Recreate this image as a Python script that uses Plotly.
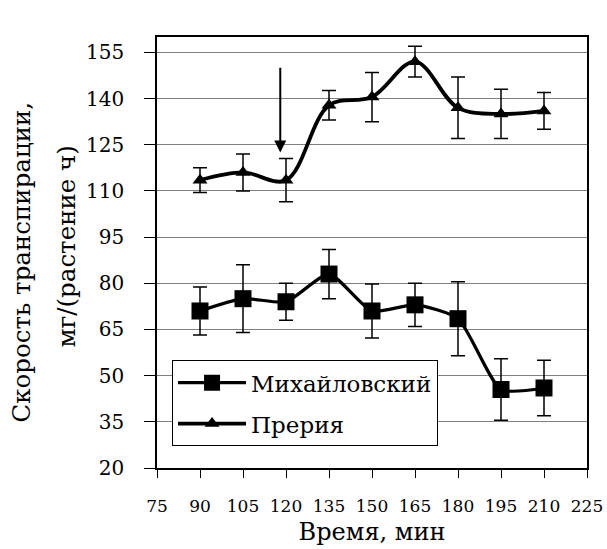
import plotly.graph_objects as go

# Time points, minutes
time_min = [90, 105, 120, 135, 150, 165, 180, 195, 210]

# Transpiration rate, mg/(plant h), with error half-widths
mikh_rate = [71, 75, 74, 83, 71, 73, 68.5, 45.5, 46]
mikh_err = [7.8, 11, 6, 8, 8.8, 7, 12, 10, 9]

prairie_rate = [113.5, 116, 113.5, 137.8, 140.5, 152, 137, 135, 136]
prairie_err = [4, 6, 7, 4.8, 8, 5, 10, 8, 6]

y_ticks = [20, 35, 50, 65, 80, 95, 110, 125, 140, 155]
x_ticks = [75, 90, 105, 120, 135, 150, 165, 180, 195, 210, 225]

y_title_lines = ["Скорость транспирации,", "мг/(растение ч)"]
x_title = "Время, мин"

# Treatment moment marked by the arrow
arrow_x = 118
arrow_tip = 122.5
arrow_tail = 150.5

FONT = "DejaVu Serif"

fig = go.Figure()

fig.add_trace(go.Scatter(
    x=time_min, y=mikh_rate, name="Михайловский", legendgroup="m",
    mode="lines+markers",
    line=dict(color="black", width=3.2, shape="spline", smoothing=0.6),
    marker=dict(symbol="square", size=17, color="black"),
    error_y=dict(type="data", array=mikh_err, visible=True,
                 color="black", thickness=1.5, width=7),
))

fig.add_trace(go.Scatter(
    x=time_min, y=prairie_rate, name="Прерия", legendgroup="p",
    mode="lines+markers",
    line=dict(color="black", width=3.8, shape="spline", smoothing=1),
    marker=dict(symbol="triangle-up", size=13, color="black"),
    error_y=dict(type="data", array=prairie_err, visible=True,
                 color="black", thickness=1.5, width=7),
))

fig.add_annotation(
    x=arrow_x, y=arrow_tip, ax=arrow_x, ay=arrow_tail,
    xref="x", yref="y", axref="x", ayref="y",
    showarrow=True, arrowhead=2, arrowsize=1.2, arrowwidth=2,
    arrowcolor="black", text="",
)

# Two-line vertical axis title, set as rotated text
for xp, yp, line in [(-0.315, 0.478, y_title_lines[0]),
                     (-0.21, 0.513, y_title_lines[1])]:
    fig.add_annotation(
        x=xp, y=yp, xref="paper", yref="paper",
        xanchor="center", yanchor="middle",
        text=line, textangle=-90, showarrow=False,
        font=dict(family=FONT, size=24.5, color="black"),
    )

fig.update_layout(
    width=607, height=549,
    margin=dict(l=157, r=20, t=37, b=81),
    paper_bgcolor="white", plot_bgcolor="white",
    font=dict(family=FONT, size=18, color="black"),
    showlegend=True,
    legend=dict(
        x=0.035, y=0.25, xanchor="left", yanchor="top",
        bgcolor="white", bordercolor="black", borderwidth=1,
        font=dict(family=FONT, size=23, color="black"),
        itemwidth=68, traceorder="grouped", tracegroupgap=8,
    ),
)

fig.update_xaxes(
    range=[75, 225], tickvals=x_ticks, tickangle=0, automargin=False,
    ticks="outside", ticklen=8, tickcolor="black", tickwidth=1,
    ticklabelstandoff=14,
    showline=True, linecolor="black", linewidth=1.5, mirror=True,
    showgrid=False, zeroline=False,
    tickfont=dict(family=FONT, size=17),
    title=dict(text=x_title, font=dict(family=FONT, size=24), standoff=8),
)

fig.update_yaxes(
    range=[20, 160], tickvals=y_ticks, automargin=False,
    ticks="outside", ticklen=11, tickcolor="black", tickwidth=1,
    ticklabelstandoff=16,
    showline=True, linecolor="black", linewidth=1.5, mirror=True,
    showgrid=True, gridcolor="#808080", gridwidth=1, zeroline=False,
    tickfont=dict(family=FONT, size=20),
)

fig.write_html("out.html")
